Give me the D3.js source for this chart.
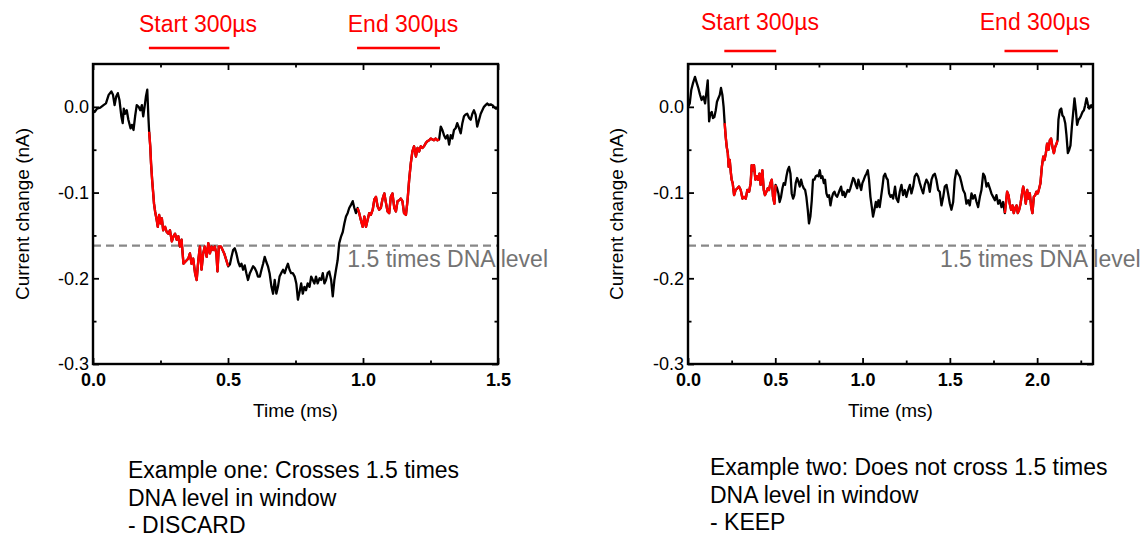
<!DOCTYPE html>
<html>
<head>
<meta charset="utf-8">
<script src="https://cdn.jsdelivr.net/npm/d3@7"></script>
<style>
body { margin: 0; background: #fff; }
svg text { font-family: "Liberation Sans", Arial, sans-serif; }
</style>
</head>
<body>
<div id="chart-area"></div>
<script>
// current traces: [time (ms), current change (nA)]
var leftTrace = [
  [0, -0.004], [0.006, -0.006], [0.015, -0.002], [0.027, -0.001], [0.039, 0.002], [0.048, 0.004],
  [0.058, 0.014], [0.068, 0.018], [0.074, 0.014], [0.080, 0.002], [0.086, 0.012], [0.092, 0.016],
  [0.098, 0.008], [0.105, -0.011], [0.110, -0.019], [0.114, -0.002], [0.119, -0.008], [0.125, -0.004],
  [0.131, -0.015], [0.139, -0.025], [0.144, -0.021], [0.150, -0.027], [0.156, -0.011], [0.162, 0.002],
  [0.169, 0.000], [0.175, -0.004], [0.181, 0.002], [0.186, -0.011], [0.191, 0.000], [0.196, 0.012],
  [0.201, 0.020], [0.205, -0.011],
  [0.208, -0.029], [0.212, -0.046], [0.215, -0.066], [0.219, -0.085], [0.223, -0.101], [0.226, -0.113],
  [0.230, -0.122], [0.236, -0.132], [0.240, -0.140], [0.245, -0.126], [0.250, -0.136], [0.255, -0.130],
  [0.260, -0.144], [0.267, -0.140], [0.273, -0.146], [0.279, -0.148], [0.285, -0.144], [0.292, -0.157],
  [0.298, -0.151], [0.304, -0.148], [0.310, -0.155], [0.316, -0.151], [0.322, -0.163], [0.328, -0.155],
  [0.335, -0.183], [0.341, -0.181], [0.347, -0.179], [0.353, -0.177], [0.359, -0.171], [0.365, -0.183],
  [0.371, -0.177], [0.378, -0.194], [0.384, -0.202], [0.390, -0.179], [0.396, -0.163], [0.402, -0.190],
  [0.408, -0.171], [0.414, -0.163], [0.421, -0.175], [0.427, -0.159], [0.433, -0.171], [0.439, -0.163],
  [0.445, -0.167], [0.451, -0.163], [0.457, -0.171], [0.461, -0.192], [0.466, -0.163], [0.474, -0.163],
  [0.480, -0.167], [0.486, -0.171], [0.494, -0.179], [0.501, -0.186],
  [0.507, -0.184], [0.513, -0.175], [0.519, -0.167], [0.525, -0.165], [0.531, -0.171], [0.538, -0.181],
  [0.544, -0.186], [0.550, -0.183], [0.556, -0.190], [0.562, -0.185], [0.568, -0.194], [0.574, -0.202],
  [0.581, -0.194], [0.587, -0.190], [0.593, -0.186], [0.599, -0.188], [0.605, -0.192], [0.611, -0.198],
  [0.618, -0.198], [0.624, -0.190], [0.630, -0.183], [0.636, -0.175], [0.642, -0.181], [0.648, -0.186],
  [0.654, -0.194], [0.661, -0.210], [0.667, -0.218], [0.673, -0.202], [0.679, -0.218], [0.685, -0.210],
  [0.691, -0.198], [0.697, -0.194], [0.704, -0.190], [0.710, -0.194], [0.716, -0.188], [0.722, -0.183],
  [0.728, -0.190], [0.734, -0.194], [0.740, -0.194], [0.747, -0.198], [0.753, -0.206], [0.759, -0.225],
  [0.765, -0.216], [0.771, -0.206], [0.777, -0.218], [0.783, -0.210], [0.789, -0.214], [0.795, -0.206],
  [0.802, -0.210], [0.808, -0.198], [0.814, -0.202], [0.820, -0.206], [0.826, -0.198], [0.832, -0.206],
  [0.839, -0.200], [0.845, -0.202], [0.851, -0.194], [0.857, -0.206], [0.863, -0.202], [0.869, -0.194],
  [0.875, -0.192], [0.882, -0.202], [0.888, -0.221], [0.894, -0.202], [0.900, -0.190], [0.906, -0.179],
  [0.912, -0.159], [0.919, -0.151], [0.925, -0.146], [0.931, -0.136], [0.937, -0.128], [0.943, -0.124],
  [0.949, -0.118], [0.956, -0.114], [0.962, -0.110], [0.968, -0.118], [0.974, -0.124],
  [0.980, -0.118], [0.986, -0.124], [0.992, -0.132], [0.999, -0.140], [1.005, -0.128], [1.011, -0.140],
  [1.017, -0.132], [1.023, -0.124], [1.029, -0.126], [1.036, -0.120], [1.042, -0.108], [1.048, -0.105],
  [1.054, -0.116], [1.060, -0.120], [1.066, -0.118], [1.072, -0.108], [1.079, -0.101], [1.085, -0.112],
  [1.091, -0.122], [1.097, -0.124], [1.103, -0.105], [1.109, -0.101], [1.116, -0.118], [1.122, -0.122],
  [1.128, -0.110], [1.134, -0.109], [1.140, -0.107], [1.146, -0.110], [1.152, -0.124], [1.159, -0.126],
  [1.165, -0.109], [1.171, -0.085], [1.177, -0.066], [1.183, -0.052], [1.189, -0.046], [1.196, -0.058],
  [1.202, -0.048], [1.208, -0.052], [1.214, -0.046], [1.220, -0.048], [1.226, -0.046], [1.233, -0.042],
  [1.239, -0.040], [1.245, -0.039], [1.251, -0.037], [1.257, -0.038], [1.263, -0.039], [1.269, -0.037],
  [1.276, -0.039], [1.282, -0.038],
  [1.288, -0.023], [1.294, -0.027], [1.300, -0.033], [1.306, -0.037], [1.313, -0.033], [1.319, -0.044],
  [1.325, -0.033], [1.331, -0.037], [1.337, -0.027], [1.343, -0.025], [1.349, -0.019], [1.356, -0.025],
  [1.362, -0.031], [1.368, -0.019], [1.374, -0.011], [1.380, -0.009], [1.386, -0.008], [1.393, -0.013],
  [1.399, -0.015], [1.405, -0.008], [1.411, -0.004], [1.417, -0.009], [1.423, -0.023], [1.430, -0.015],
  [1.436, -0.008], [1.442, -0.004], [1.448, 0.000], [1.454, 0.002], [1.460, 0.004], [1.466, 0.002],
  [1.473, 0.003], [1.479, 0.002], [1.485, 0.000], [1.492, -0.002], [1.5, -0.002]
];

var rightTrace = [
  [0, 0.000], [0.010, 0.004], [0.019, 0.020], [0.029, 0.028], [0.040, 0.035], [0.050, 0.028],
  [0.059, 0.022], [0.069, 0.014], [0.078, 0.008], [0.088, 0.012], [0.098, 0.004], [0.107, 0.020],
  [0.113, 0.031], [0.121, -0.017], [0.128, -0.008], [0.136, -0.006], [0.143, -0.013], [0.151, -0.012],
  [0.159, -0.004], [0.166, 0.006], [0.174, 0.010], [0.182, 0.014], [0.189, 0.022], [0.197, 0.014],
  [0.204, 0.000],
  [0.210, -0.019], [0.216, -0.035], [0.222, -0.047], [0.228, -0.054], [0.233, -0.070], [0.239, -0.062],
  [0.245, -0.076], [0.250, -0.085], [0.256, -0.089], [0.264, -0.103], [0.273, -0.097], [0.283, -0.095],
  [0.292, -0.093], [0.302, -0.097], [0.312, -0.107], [0.321, -0.105], [0.331, -0.107], [0.340, -0.097],
  [0.350, -0.099], [0.359, -0.089], [0.365, -0.068], [0.371, -0.074], [0.378, -0.068], [0.386, -0.085],
  [0.394, -0.081], [0.401, -0.085], [0.409, -0.078], [0.416, -0.091], [0.426, -0.074], [0.434, -0.097],
  [0.441, -0.103], [0.449, -0.099], [0.457, -0.095], [0.464, -0.097], [0.472, -0.089], [0.480, -0.085],
  [0.487, -0.105], [0.495, -0.113], [0.502, -0.091],
  [0.510, -0.095], [0.518, -0.101], [0.525, -0.111], [0.533, -0.105], [0.541, -0.095], [0.548, -0.089],
  [0.556, -0.091], [0.564, -0.081], [0.571, -0.074], [0.579, -0.070], [0.587, -0.078], [0.594, -0.101],
  [0.602, -0.107], [0.609, -0.103], [0.617, -0.089], [0.625, -0.083], [0.632, -0.087], [0.640, -0.093],
  [0.648, -0.085], [0.655, -0.091], [0.663, -0.095], [0.671, -0.097], [0.678, -0.105], [0.686, -0.120],
  [0.693, -0.136], [0.701, -0.128], [0.709, -0.109], [0.716, -0.085], [0.724, -0.085], [0.732, -0.081],
  [0.739, -0.080], [0.747, -0.081], [0.755, -0.074], [0.762, -0.083], [0.770, -0.081], [0.778, -0.089],
  [0.785, -0.085], [0.793, -0.101], [0.800, -0.105], [0.808, -0.103], [0.816, -0.115], [0.823, -0.107],
  [0.831, -0.101], [0.839, -0.099], [0.846, -0.103], [0.854, -0.105], [0.862, -0.101], [0.869, -0.097],
  [0.877, -0.093], [0.885, -0.103], [0.892, -0.099], [0.900, -0.105], [0.907, -0.101], [0.915, -0.097],
  [0.923, -0.099], [0.930, -0.095], [0.938, -0.089], [0.946, -0.083], [0.953, -0.085], [0.961, -0.091],
  [0.969, -0.095], [0.976, -0.085], [0.984, -0.091], [0.992, -0.097], [0.999, -0.089], [1.007, -0.085],
  [1.014, -0.081], [1.022, -0.078], [1.030, -0.074], [1.037, -0.085], [1.045, -0.105], [1.053, -0.117],
  [1.060, -0.128], [1.068, -0.120], [1.076, -0.111], [1.083, -0.117], [1.091, -0.109], [1.098, -0.117],
  [1.106, -0.105], [1.114, -0.093], [1.121, -0.081], [1.129, -0.078], [1.137, -0.083], [1.144, -0.085],
  [1.152, -0.101], [1.160, -0.105], [1.167, -0.103], [1.175, -0.107], [1.186, -0.093], [1.194, -0.107],
  [1.204, -0.111], [1.213, -0.099], [1.223, -0.091], [1.232, -0.103], [1.242, -0.097], [1.251, -0.105],
  [1.261, -0.097], [1.271, -0.091], [1.280, -0.101], [1.290, -0.093], [1.299, -0.081], [1.309, -0.078],
  [1.318, -0.081], [1.328, -0.089], [1.337, -0.095], [1.347, -0.101], [1.356, -0.091], [1.366, -0.085],
  [1.376, -0.089], [1.385, -0.099], [1.395, -0.085], [1.404, -0.080], [1.414, -0.078], [1.423, -0.085],
  [1.433, -0.097], [1.442, -0.099], [1.452, -0.115], [1.462, -0.105], [1.471, -0.093], [1.481, -0.091],
  [1.490, -0.101], [1.500, -0.113], [1.509, -0.120], [1.519, -0.111], [1.528, -0.085], [1.538, -0.074],
  [1.547, -0.078], [1.557, -0.081], [1.567, -0.089], [1.576, -0.097], [1.586, -0.101], [1.595, -0.113],
  [1.605, -0.109], [1.614, -0.115], [1.624, -0.101], [1.633, -0.107], [1.643, -0.103], [1.653, -0.111],
  [1.662, -0.117], [1.672, -0.105], [1.681, -0.097], [1.691, -0.078], [1.700, -0.081], [1.710, -0.093],
  [1.719, -0.089], [1.729, -0.095], [1.738, -0.101], [1.748, -0.105], [1.758, -0.109], [1.767, -0.103],
  [1.777, -0.113], [1.786, -0.109], [1.796, -0.117], [1.805, -0.111],
  [1.815, -0.124], [1.821, -0.113], [1.828, -0.099], [1.836, -0.103], [1.843, -0.113], [1.851, -0.120],
  [1.859, -0.115], [1.866, -0.124], [1.874, -0.118], [1.882, -0.115], [1.889, -0.124], [1.897, -0.120],
  [1.905, -0.113], [1.912, -0.103], [1.920, -0.093], [1.928, -0.101], [1.935, -0.113], [1.943, -0.097],
  [1.950, -0.107], [1.958, -0.101], [1.966, -0.117], [1.973, -0.124], [1.981, -0.105], [1.989, -0.103],
  [1.996, -0.099], [2.004, -0.101], [2.012, -0.095], [2.019, -0.089], [2.027, -0.070], [2.035, -0.058],
  [2.042, -0.062], [2.050, -0.054], [2.057, -0.043], [2.065, -0.050], [2.073, -0.039], [2.080, -0.037],
  [2.088, -0.047], [2.096, -0.054], [2.103, -0.047], [2.111, -0.043], [2.117, -0.039],
  [2.122, -0.015], [2.130, -0.004], [2.138, -0.002], [2.145, -0.010], [2.153, -0.012], [2.161, -0.019],
  [2.168, -0.033], [2.176, -0.054], [2.184, -0.050], [2.191, -0.045], [2.199, -0.023], [2.206, -0.008],
  [2.214, 0.010], [2.222, -0.004], [2.229, -0.021], [2.237, -0.015], [2.245, -0.013], [2.252, -0.010],
  [2.260, -0.006], [2.268, -0.004], [2.275, 0.002], [2.283, 0.010], [2.290, 0.004], [2.298, -0.002],
  [2.310, 0.002], [2.319, 0.001]
];

// 300 us analysis windows (ms)
var leftWindows = [[0.207, 0.505], [0.978, 1.285]];
var rightWindows = [[0.208, 0.505], [1.813, 2.119]];
var windowNames = ["Start 300\u00b5s", "End 300\u00b5s"];

var dnaLevel = -0.162;
var dnaLabel = "1.5 times DNA level";

var yMajor = [0, -0.1, -0.2, -0.3];
var yMinor = [-0.05, -0.15, -0.25];
var leftXMajor = [0, 0.5, 1.0, 1.5];
var leftXMinor = [0.25, 0.75, 1.25];
var rightXMajor = [0, 0.5, 1.0, 1.5, 2.0];
var rightXMinor = [0.25, 0.75, 1.25, 1.75, 2.25];

var leftCaption = ["Example one: Crosses 1.5 times", "DNA level in window", "- DISCARD"];
var rightCaption = ["Example two: Does not cross 1.5 times", "DNA level in window", "- KEEP"];

var width = 1146;
var height = 537;
var svg = d3.select("#chart-area").append("svg")
    .attr("width", width)
    .attr("height", height);

var panels = [
  {trace: leftTrace, windows: leftWindows, xMax: 1.5, major: leftXMajor, minor: leftXMinor,
   x0: 93, x1: 498, titleX: [198, 403], titleY: 32, barY: 48, labelT: 0.942,
   yTitleX: 29, caption: leftCaption, capX: 128, capY: 478},
  {trace: rightTrace, windows: rightWindows, xMax: 2.32, major: rightXMajor, minor: rightXMinor,
   x0: 688, x1: 1093, titleX: [760, 1035], titleY: 30, barY: 51, labelT: 1.443,
   yTitleX: 623, caption: rightCaption, capX: 710, capY: 475}
];

var plotTop = 64, plotBottom = 364;
var fmt = function(d) { return d.toFixed(1); };

panels.forEach(function(p) {
    var x = d3.scaleLinear().domain([0, p.xMax]).range([p.x0, p.x1]);
    var y = d3.scaleLinear().domain([-0.3, 0.05]).range([plotBottom, plotTop]);
    var g = svg.append("g");

    // ticks, all pointing inward
    function addAxis(axis, tx, ty, labels) {
        var a = g.append("g")
            .attr("transform", "translate(" + tx + "," + ty + ")")
            .call(axis);
        a.select(".domain").remove();
        a.selectAll("line").attr("stroke", "#000").attr("stroke-width", 1.8);
        if (!labels) a.selectAll("text").remove();
        return a;
    }
    var xb = addAxis(d3.axisBottom(x).tickValues(p.major).tickSize(-6).tickPadding(9).tickFormat(fmt), 0, plotBottom, true);
    xb.selectAll("text").attr("font-size", "18px").attr("font-weight", "bold").attr("fill", "#000")
        .style("font-family", '"Liberation Sans", Arial, sans-serif');
    addAxis(d3.axisBottom(x).tickValues(p.minor).tickSize(-3.5), 0, plotBottom, false);
    addAxis(d3.axisTop(x).tickValues(p.major).tickSize(-6), 0, plotTop, false);
    addAxis(d3.axisTop(x).tickValues(p.minor).tickSize(-3.5), 0, plotTop, false);
    var yl = addAxis(d3.axisLeft(y).tickValues(yMajor).tickSize(-6).tickPadding(4).tickFormat(fmt), p.x0, 0, true);
    yl.selectAll("text").attr("font-size", "18px").attr("fill", "#000")
        .style("font-family", '"Liberation Sans", Arial, sans-serif');
    addAxis(d3.axisLeft(y).tickValues(yMinor).tickSize(-3.5), p.x0, 0, false);
    addAxis(d3.axisRight(y).tickValues(yMajor).tickSize(-6), p.x1, 0, false);
    addAxis(d3.axisRight(y).tickValues(yMinor).tickSize(-3.5), p.x1, 0, false);

    // 1.5x DNA level
    g.append("line")
        .attr("x1", p.x0).attr("x2", p.x1)
        .attr("y1", y(dnaLevel)).attr("y2", y(dnaLevel))
        .attr("stroke", "#888").attr("stroke-width", 2.2)
        .attr("stroke-dasharray", "8,5");
    g.append("text")
        .attr("x", x(p.labelT))
        .attr("y", y(dnaLevel) + 21)
        .attr("font-size", "23px")
        .attr("fill", "#737373")
        .text(dnaLabel);

    // trace
    var line = d3.line()
        .x(function(d) { return x(d[0]); })
        .y(function(d) { return y(d[1]); });
    g.append("path")
        .datum(p.trace)
        .attr("fill", "none")
        .attr("stroke", "#000")
        .attr("stroke-width", 2.3)
        .attr("stroke-linejoin", "round")
        .attr("d", line);
    p.windows.forEach(function(w) {
        g.append("path")
            .datum(p.trace.filter(function(d) { return d[0] >= w[0] && d[0] <= w[1]; }))
            .attr("fill", "none")
            .attr("stroke", "#ff0000")
            .attr("stroke-width", 2.4)
            .attr("stroke-linejoin", "round")
            .attr("d", line);
    });

    // frame
    g.append("rect")
        .attr("x", p.x0).attr("y", plotTop)
        .attr("width", p.x1 - p.x0).attr("height", plotBottom - plotTop)
        .attr("fill", "none").attr("stroke", "#000").attr("stroke-width", 2.4);

    // window markers above the plot
    p.windows.forEach(function(w, i) {
        g.append("line")
            .attr("x1", x(w[0])).attr("x2", x(w[1]))
            .attr("y1", p.barY).attr("y2", p.barY)
            .attr("stroke", "#ff0000").attr("stroke-width", 2.5);
        g.append("text")
            .attr("x", p.titleX[i]).attr("y", p.titleY)
            .attr("text-anchor", "middle")
            .attr("font-size", "23px")
            .attr("fill", "#ff0000")
            .text(windowNames[i]);
    });

    // axis titles
    g.append("text")
        .attr("x", (p.x0 + p.x1) / 2)
        .attr("y", 417)
        .attr("text-anchor", "middle")
        .attr("font-size", "19px")
        .text("Time (ms)");
    g.append("text")
        .attr("transform", "translate(" + p.yTitleX + "," + ((plotTop + plotBottom) / 2) + ") rotate(-90)")
        .attr("text-anchor", "middle")
        .attr("font-size", "19px")
        .text("Current change (nA)");

    // caption
    p.caption.forEach(function(s, i) {
        g.append("text")
            .attr("x", p.capX)
            .attr("y", p.capY + i * 27.5)
            .attr("font-size", "23px")
            .text(s);
    });
});
</script>
</body>
</html>
